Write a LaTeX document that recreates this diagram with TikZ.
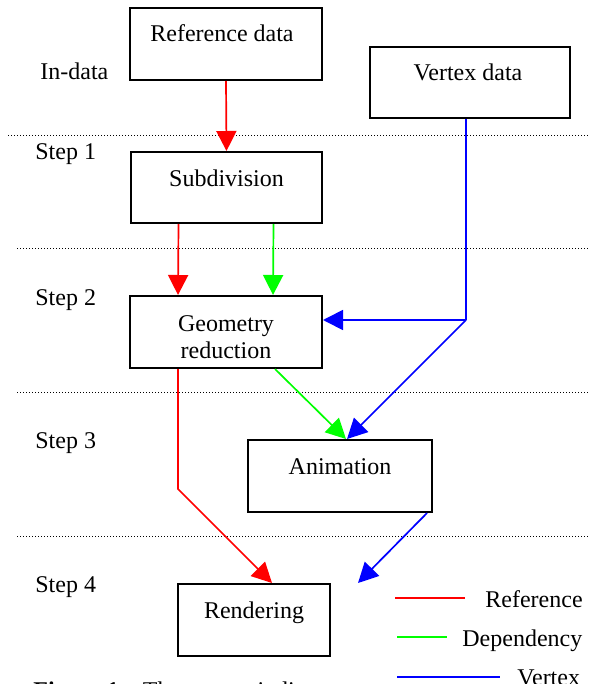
\documentclass[tikz,border=0pt]{standalone}
\usepackage{fontspec}
\setmainfont{Liberation Serif}
\usetikzlibrary{arrows.meta}
\begin{document}
\begin{tikzpicture}[x=0.5pt,y=-0.5pt,
  box/.style={draw=black,line width=1pt,inner sep=0pt,fill=white},
  txt/.style={inner sep=0pt,anchor=base,font=\fontsize{12}{14}\selectfont},
  lbl/.style={inner sep=0pt,anchor=base west,font=\fontsize{12}{14}\selectfont},
  sep/.style={line width=0.5pt,dash pattern=on 0.6pt off 0.9pt},
  flow/.style={line width=0.85pt,-{Triangle[length=10pt,width=10pt]}},
  link/.style={line width=0.85pt},
  refc/.style={color={rgb,255:red,255;green,0;blue,0}},
  depc/.style={color={rgb,255:red,0;green,255;blue,0}},
  vtxc/.style={color={rgb,255:red,0;green,0;blue,255}}]
\useasboundingbox (0,0) rectangle (588,684);
\clip (0,0) rectangle (588,684);

% stage separators
\coordinate (s1a) at (8,136);   \coordinate (s1b) at (588,136);
\coordinate (s2a) at (17,248);  \coordinate (s2b) at (588,248);
\coordinate (s3a) at (17,392);  \coordinate (s3b) at (588,392);
\coordinate (s4a) at (17,536);  \coordinate (s4b) at (588,536);
\draw[sep] (s1a) -- (s1b);
\draw[sep] (s2a) -- (s2b);
\draw[sep] (s3a) -- (s3b);
\draw[sep] (s4a) -- (s4b);

% stage labels
\node[lbl] (lin) at (40,80) {In-data};
\node[lbl] (l1) at (35,160) {Step 1};
\node[lbl] (l2) at (35,305) {Step 2};
\node[lbl] (l3) at (35,448) {Step 3};
\node[lbl] (l4) at (35,592) {Step 4};

% process boxes
\node[box,minimum width=96pt,minimum height=36pt] (ref) at (226,44) {};
\node[box,minimum width=100pt,minimum height=35.5pt] (vert) at (470,82.5) {};
\node[box,minimum width=95.5pt,minimum height=35.5pt] (sub) at (226.5,187.5) {};
\node[box,minimum width=96pt,minimum height=36pt] (geo) at (226,332) {};
\node[box,minimum width=92pt,minimum height=36pt] (anim) at (340,476) {};
\node[box,minimum width=76pt,minimum height=36pt] (rend) at (254,620) {};

% box captions
\node[txt] (reft) at (222,42) {Reference data};
\node[txt] (vertt) at (468,81) {Vertex data};
\node[txt] (subt) at (226.5,186) {Subdivision};
\node[txt] (geot1) at (226,331) {Geometry};
\node[txt] (geot2) at (226,358) {reduction};
\node[txt] (animt) at (340,474) {Animation};
\node[txt] (rendt) at (254,618) {Rendering};

% reference flow
\draw[flow,refc] (ref.south) -- (sub.north);
\draw[flow,refc] ([xshift=-24pt]sub.south) -- ([xshift=-24pt]geo.north);
\coordinate (rk) at (178,489);
\draw[flow,refc] ([xshift=-24pt]geo.south) -- (rk) -- ([xshift=9pt]rend.north);

% dependency flow
\draw[flow,depc] ([xshift=23.5pt]sub.south) -- ([xshift=23.5pt]geo.north);
\draw[flow,depc] ([xshift=24.5pt]geo.south) -- ([xshift=3pt]anim.north);

% vertex flow
\coordinate (vj) at (466,320);
\draw[link,vtxc] ([xshift=-2pt]vert.south) -- (vj);
\draw[flow,vtxc] (vj) -- ([yshift=6pt]geo.east);
\draw[flow,vtxc] (vj) -- ([xshift=3.5pt]anim.north);
\draw[flow,vtxc] ([xshift=43.5pt]anim.south) -- ([xshift=52pt]rend.north);

% legend
\coordinate (k1a) at (395,598); \coordinate (k1b) at (465,598);
\coordinate (k2a) at (397,637); \coordinate (k2b) at (447,637);
\coordinate (k3a) at (397,677); \coordinate (k3b) at (500,677);
\draw[link,refc] (k1a) -- (k1b);
\draw[link,depc] (k2a) -- (k2b);
\draw[link,vtxc] (k3a) -- (k3b);
\node[lbl] (k1t) at (485,607) {Reference};
\node[lbl] (k2t) at (462,646) {Dependency};
\node[lbl] (k3t) at (517,685) {Vertex};

% figure caption
\node[lbl] (cap) at (33,698) {\textbf{Figure 1:}\hspace{8pt}The arrows indicate};
\end{tikzpicture}
\end{document}
